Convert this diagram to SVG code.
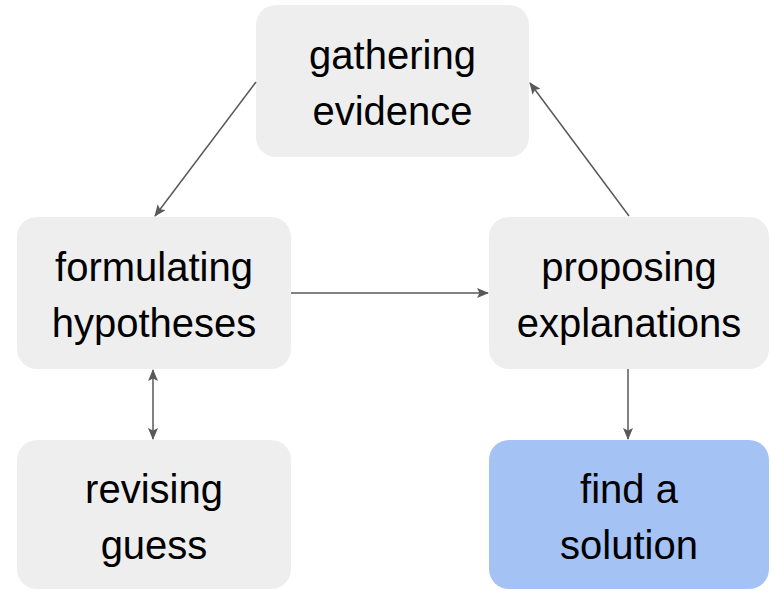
<svg xmlns="http://www.w3.org/2000/svg" width="771" height="590" viewBox="0 0 771 590">
<style>
.node{fill:#eeeeee;}
.blue{fill:#a4c2f4;}
.t{font-family:"Liberation Sans",Arial,sans-serif;font-size:40px;fill:#000;text-anchor:middle;}
.c{stroke:#595959;stroke-width:1.5;fill:none;}
</style>
<defs>
<marker id="ah" viewBox="0 0 12 10" refX="11" refY="5" markerWidth="12" markerHeight="10" markerUnits="userSpaceOnUse" orient="auto-start-reverse">
<path d="M0,0 L12,5 L0,10 L2.5,5 Z" fill="#595959"/>
</marker>
</defs>
<rect width="771" height="590" fill="#ffffff"/>
<g id="gathering">
<rect class="node" x="256" y="5" width="273" height="152" rx="20"/>
<text class="t" x="392.5" y="69">gathering</text>
<text class="t" x="392.5" y="124.5">evidence</text>
</g>
<g id="formulating">
<rect class="node" x="17" y="217" width="274" height="152" rx="20"/>
<text class="t" x="154" y="281">formulating</text>
<text class="t" x="154" y="336.5">hypotheses</text>
</g>
<g id="proposing">
<rect class="node" x="489" y="217" width="280" height="152" rx="20"/>
<text class="t" x="629" y="281">proposing</text>
<text class="t" x="629" y="336.5">explanations</text>
</g>
<g id="revising">
<rect class="node" x="17" y="440" width="274" height="149" rx="20"/>
<text class="t" x="154" y="503">revising</text>
<text class="t" x="154" y="558.5">guess</text>
</g>
<g id="solution">
<rect class="blue" x="489" y="440" width="280" height="149" rx="20"/>
<text class="t" x="629" y="503">find a</text>
<text class="t" x="629" y="558.5">solution</text>
</g>
<g id="connectors">
<line class="c" x1="256" y1="82" x2="155" y2="216" marker-end="url(#ah)"/>
<line class="c" x1="291" y1="293" x2="488" y2="293" marker-end="url(#ah)"/>
<line class="c" x1="629" y1="216" x2="530" y2="83" marker-end="url(#ah)"/>
<line class="c" x1="628" y1="369" x2="628" y2="439" marker-end="url(#ah)"/>
<line class="c" x1="153" y1="370" x2="153" y2="439" marker-start="url(#ah)" marker-end="url(#ah)"/>
</g>
</svg>
